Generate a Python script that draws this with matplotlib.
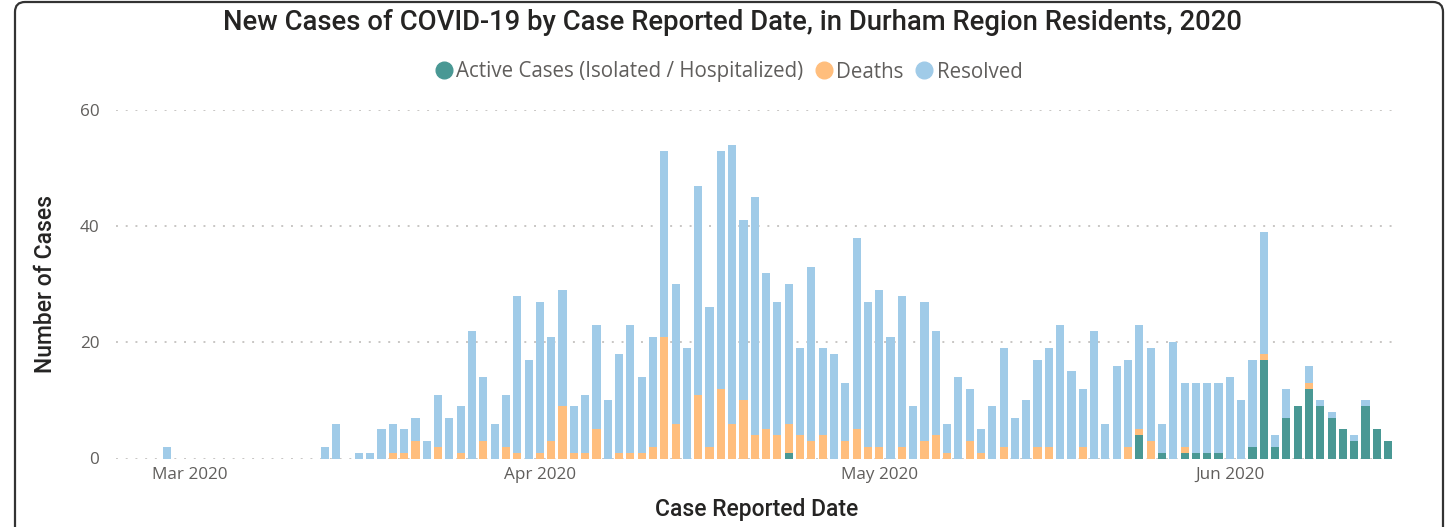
import matplotlib.pyplot as plt
import matplotlib.dates as mdates
from matplotlib.lines import Line2D
from matplotlib.patches import FancyBboxPatch
from matplotlib.transforms import IdentityTransform
import numpy as np
import pandas as pd

# daily counts (days with no cases are left out)
dates = ['2020-02-28', '2020-03-13', '2020-03-14', '2020-03-16', '2020-03-17',
         '2020-03-18', '2020-03-19', '2020-03-20', '2020-03-21', '2020-03-22',
         '2020-03-23', '2020-03-24', '2020-03-25', '2020-03-26', '2020-03-27',
         '2020-03-28', '2020-03-29', '2020-03-30', '2020-03-31', '2020-04-01',
         '2020-04-02', '2020-04-03', '2020-04-04', '2020-04-05', '2020-04-06',
         '2020-04-07', '2020-04-08', '2020-04-09', '2020-04-10', '2020-04-11',
         '2020-04-12', '2020-04-13', '2020-04-14', '2020-04-15', '2020-04-16',
         '2020-04-17', '2020-04-18', '2020-04-19', '2020-04-20', '2020-04-21',
         '2020-04-22', '2020-04-23', '2020-04-24', '2020-04-25', '2020-04-26',
         '2020-04-27', '2020-04-28', '2020-04-29', '2020-04-30', '2020-05-01',
         '2020-05-02', '2020-05-03', '2020-05-04', '2020-05-05', '2020-05-06',
         '2020-05-07', '2020-05-08', '2020-05-09', '2020-05-10', '2020-05-11',
         '2020-05-12', '2020-05-13', '2020-05-14', '2020-05-15', '2020-05-16',
         '2020-05-17', '2020-05-18', '2020-05-19', '2020-05-20', '2020-05-21',
         '2020-05-22', '2020-05-23', '2020-05-24', '2020-05-25', '2020-05-26',
         '2020-05-27', '2020-05-28', '2020-05-29', '2020-05-30', '2020-05-31',
         '2020-06-01', '2020-06-02', '2020-06-03', '2020-06-04', '2020-06-05',
         '2020-06-06', '2020-06-07', '2020-06-08', '2020-06-09', '2020-06-10',
         '2020-06-11', '2020-06-12', '2020-06-13', '2020-06-14', '2020-06-15']

active = [0, 0, 0, 0, 0, 0, 0, 0, 0, 0,
          0, 0, 0, 0, 0, 0, 0, 0, 0, 0,
          0, 0, 0, 0, 0, 0, 0, 0, 0, 0,
          0, 0, 0, 0, 0, 0, 0, 0, 0, 0,
          0, 1, 0, 0, 0, 0, 0, 0, 0, 0,
          0, 0, 0, 0, 0, 0, 0, 0, 0, 0,
          0, 0, 0, 0, 0, 0, 0, 0, 0, 0,
          0, 0, 4, 0, 1, 0, 1, 1, 1, 1,
          0, 0, 2, 17, 2, 7, 9, 12, 9, 7,
          5, 3, 9, 5, 3]

deaths = [0, 0, 0, 0, 0, 0, 1, 1, 3, 0,
          2, 0, 1, 0, 3, 0, 2, 1, 0, 1,
          3, 9, 1, 1, 5, 0, 1, 1, 1, 2,
          21, 6, 0, 11, 2, 12, 6, 10, 4, 5,
          4, 5, 4, 3, 4, 0, 3, 5, 2, 2,
          0, 2, 0, 3, 4, 1, 0, 3, 1, 0,
          2, 0, 0, 2, 2, 0, 0, 2, 0, 0,
          0, 2, 1, 3, 0, 0, 1, 0, 0, 0,
          0, 0, 0, 1, 0, 0, 0, 1, 0, 0,
          0, 0, 0, 0, 0]

resolved = [2, 2, 6, 1, 1, 5, 5, 4, 4, 3,
            9, 7, 8, 22, 11, 6, 9, 27, 17, 26,
            18, 20, 8, 10, 18, 10, 17, 22, 13, 19,
            32, 24, 19, 36, 24, 41, 48, 31, 41, 27,
            23, 24, 15, 30, 15, 18, 10, 33, 25, 27,
            21, 26, 9, 24, 18, 5, 14, 9, 4, 9,
            17, 7, 10, 15, 17, 23, 15, 10, 22, 6,
            16, 15, 18, 16, 5, 20, 11, 12, 12, 12,
            14, 10, 15, 21, 2, 5, 0, 3, 1, 1,
            0, 1, 1, 0, 0]

series_names = ['Active Cases (Isolated / Hospitalized)', 'Deaths', 'Resolved']
colors = ['#499894', '#FFBE7D', '#A0CBE8']
month_ticks = ['2020-03-01', '2020-04-01', '2020-05-01', '2020-06-01']
month_labels = ['Mar 2020', 'Apr 2020', 'May 2020', 'Jun 2020']

W, H = 1447, 527
fig = plt.figure(figsize=(W / 100, H / 100), dpi=100)
ax = fig.add_axes([116 / W, 68.5 / H, (1397 - 116) / W, (417 - 68.5) / H])

x = mdates.date2num(pd.to_datetime(dates))
a = np.array(active)
d = np.array(deaths)
r = np.array(resolved)

ax.bar(x, a, width=0.72, color=colors[0], zorder=3)
ax.bar(x, d, width=0.72, bottom=a, color=colors[1], zorder=3)
ax.bar(x, r, width=0.72, bottom=a + d, color=colors[2], zorder=3)

x0 = mdates.date2num(pd.Timestamp('2020-02-28'))
ax.set_xlim(x0 - 4.48, x0 + 108.78)
ax.set_ylim(0, 60)
ax.set_yticks([0, 20, 40, 60])
ax.set_xticks(mdates.date2num(pd.to_datetime(month_ticks)))
ax.set_xticklabels(month_labels)

ax.grid(axis='y', color='#C8C6C4', linestyle=(0, (1, 4)), linewidth=1.4, zorder=0)
for s in ax.spines.values():
    s.set_visible(False)
ax.tick_params(length=0, labelsize=12.3, labelcolor='#605E5C')
ax.tick_params(axis='x', pad=6)
ax.tick_params(axis='y', pad=12)
for lab in ax.get_xticklabels() + ax.get_yticklabels():
    lab.set_family('Open Sans')

ax.set_ylabel('Number of Cases', family='Roboto', fontsize=16.5, fontweight='medium',
              color='#252423', labelpad=16)
ax.set_xlabel('Case Reported Date', family='Roboto', fontsize=16.5, fontweight='medium',
              color='#252423', labelpad=11)

fig.text(0.506, 1 - 22 / H, 'New Cases of COVID-19 by Case Reported Date, in Durham Region Residents, 2020',
         ha='center', va='center', family='Roboto', fontsize=19.8, fontweight='medium', color='#252423')

handles = [Line2D([], [], marker='o', linestyle='', markersize=12, color=c) for c in colors]
fig.legend(handles, series_names, loc='center', bbox_to_anchor=(727 / W, 1 - 72 / H), ncol=3,
           frameon=False, handletextpad=0.0, columnspacing=0.4, handlelength=1.2,
           prop={'family': 'Open Sans', 'size': 14.8}, labelcolor='#605E5C')

# visual container border
fig.patches.append(FancyBboxPatch((15, -20), 1428, 545, boxstyle='round,pad=0,rounding_size=10',
                                  transform=IdentityTransform(), facecolor='none',
                                  edgecolor='#333333', linewidth=1.6))

fig.savefig('out.png', dpi=100)
